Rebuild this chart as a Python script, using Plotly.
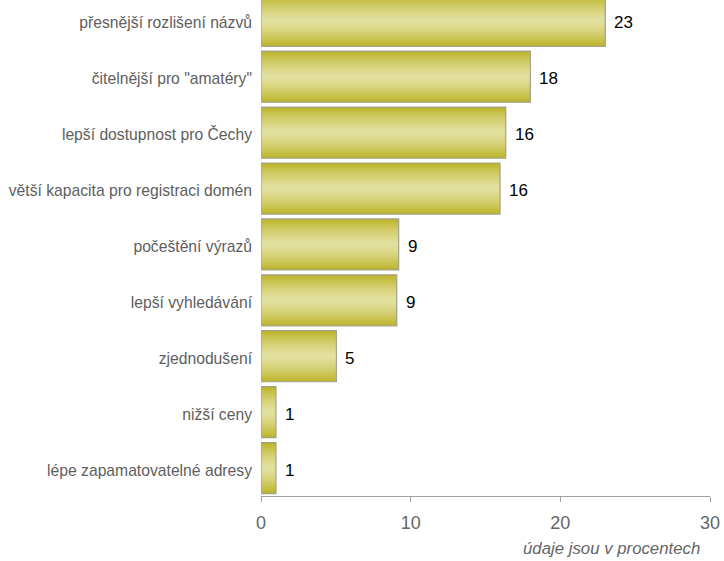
import plotly.graph_objects as go

categories = [
    "přesnější rozlišení názvů",
    "čitelnější pro \"amatéry\"",
    "lepší dostupnost pro Čechy",
    "větší kapacita pro registraci domén",
    "počeštění výrazů",
    "lepší vyhledávání",
    "zjednodušení",
    "nižší ceny",
    "lépe zapamatovatelné adresy",
]
values = [23.0, 18.0, 16.35, 15.97, 9.2, 9.07, 5.04, 1.0, 1.0]
value_labels = ["23", "18", "16", "16", "9", "9", "5", "1", "1"]
x_ticks = [0, 10, 20, 30]

n = len(categories)
positions = [n - 1 - i for i in range(n)]  # first category on top

dark = (189, 181, 43)
light = (227, 225, 160)

def mix(t):
    c = [round(light[k] + (dark[k] - light[k]) * t) for k in range(3)]
    return f"rgb({c[0]},{c[1]},{c[2]})"

fig = go.Figure()
bar_w = 0.913
layers = 16
for k in range(layers):
    frac = 1 - k / layers  # relative half-width
    w = bar_w * frac
    t = frac ** 1.4
    fig.add_trace(go.Bar(
        x=values, y=positions, orientation="h", width=w,
        marker=dict(color=mix(t), line=dict(width=0)),
        hoverinfo="skip", showlegend=False,
    ))
# border on top
fig.add_trace(go.Bar(
    x=values, y=positions, orientation="h", width=bar_w,
    marker=dict(color="rgba(0,0,0,0)", line=dict(color="#a3a290", width=1.2)),
    hoverinfo="skip", showlegend=False,
))

for v, p, lab in zip(values, positions, value_labels):
    fig.add_annotation(x=v, y=p, text=lab, showarrow=False, xanchor="left",
                       yanchor="middle", xshift=7, yshift=-2,
                       font=dict(size=17, color="#000000", family="Liberation Sans, Arial, sans-serif"))

fig.add_annotation(xref="paper", yref="paper", x=0.9815, y=-0.1057,
                   text="<i>údaje jsou v procentech</i>", showarrow=False,
                   xanchor="right", yanchor="middle",
                   font=dict(size=16.8, color="#666666", family="Liberation Sans, Arial, sans-serif"))

fig.update_layout(
    width=724, height=561,
    margin=dict(l=261, r=14, t=0, b=65, pad=0),
    barmode="overlay",
    plot_bgcolor="white", paper_bgcolor="white",
    font=dict(family="Liberation Sans, Arial, sans-serif"),
    xaxis=dict(range=[0, 30], tickvals=x_ticks, ticktext=[str(t) for t in x_ticks],
               showgrid=False, zeroline=False, showline=True, linecolor="#a0a0a0",
               linewidth=1, ticks="outside", ticklen=5, tickcolor="#a0a0a0",
               ticklabelstandoff=5,
               tickfont=dict(size=18, color="#666666"), fixedrange=True),
    yaxis=dict(range=[-0.5, 8.372], tickvals=positions, ticktext=categories,
               showgrid=False, zeroline=False, showline=False, ticks="",
               ticklabelstandoff=8, ticklabelshift=2,
               tickfont=dict(size=15.7, color="#5e5e5e"), fixedrange=True),
)

fig.write_html("out.html", config={"displayModeBar": False},
               post_script="document.body.style.margin='0';document.body.style.overflow='hidden';")
